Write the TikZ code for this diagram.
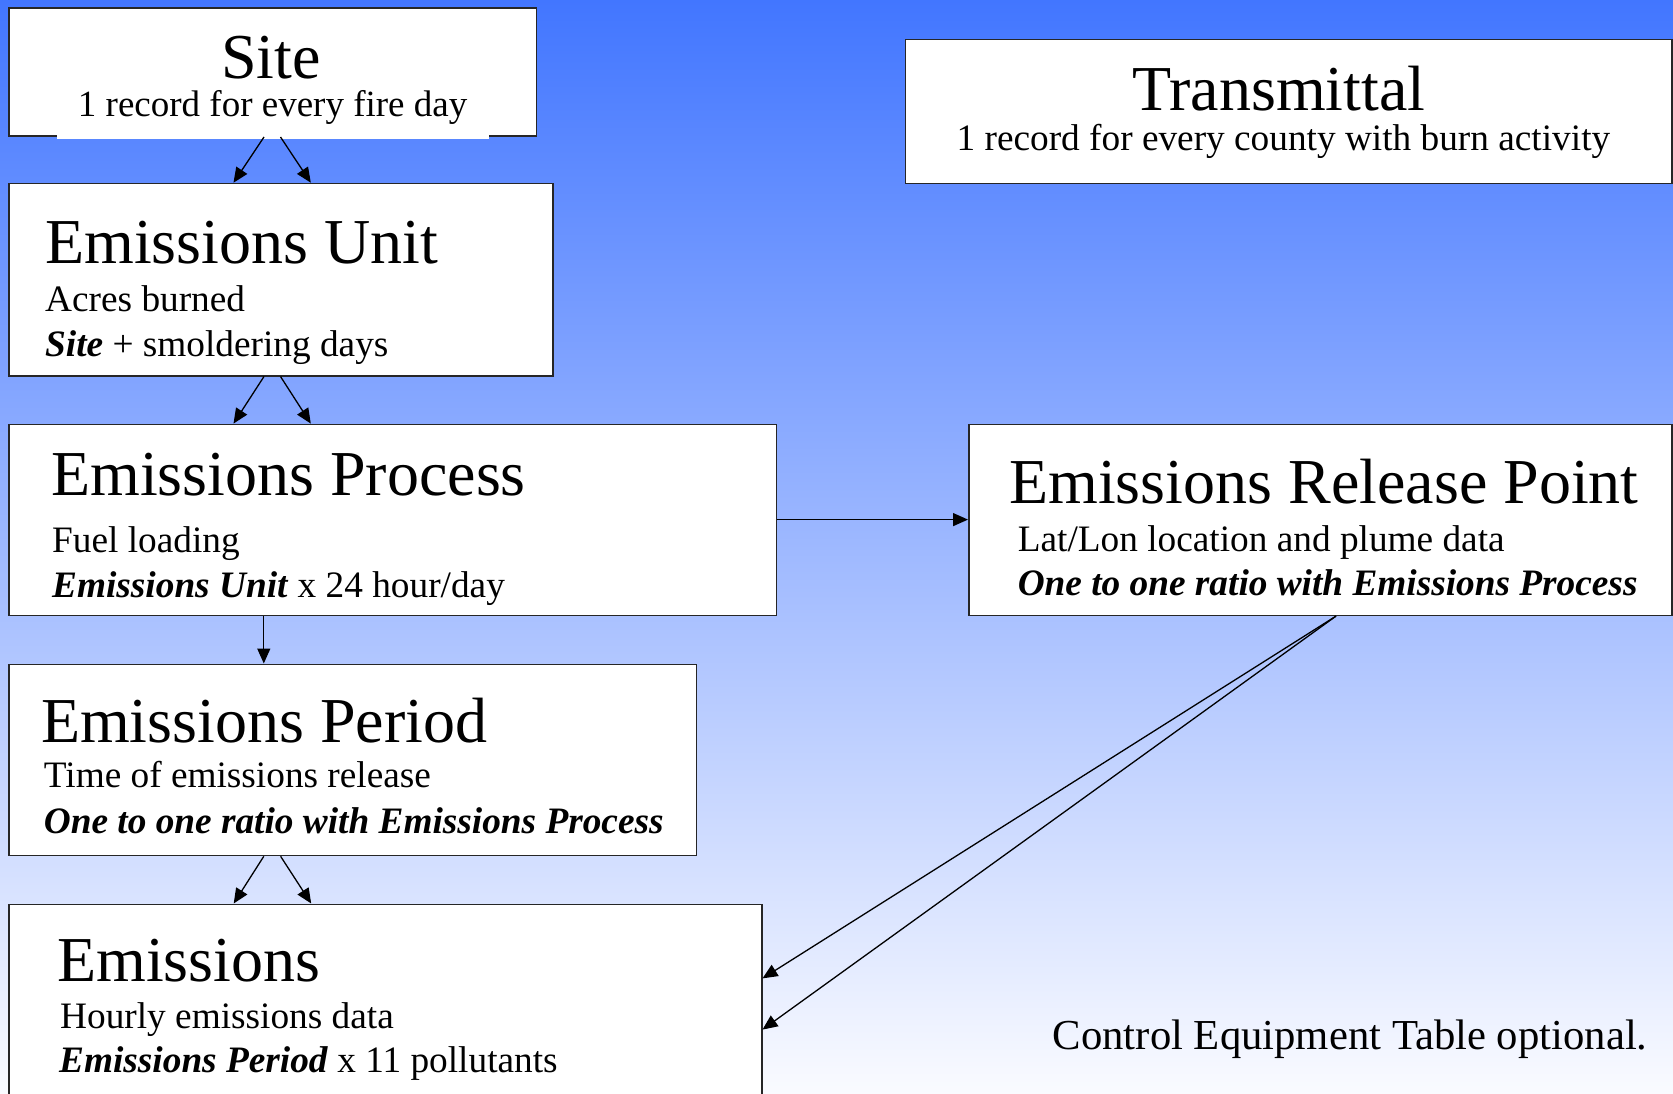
\documentclass[tikz,border=0pt]{standalone}
\usepackage{fontspec}
\setmainfont{Liberation Serif}
\usetikzlibrary{arrows.meta}
\definecolor{bgtop}{RGB}{66,118,255}
\definecolor{bgmid}{RGB}{172,183,252}
\definecolor{bgbot}{RGB}{250,251,255}
\begin{document}
\begin{tikzpicture}[x=1pt,y=-1pt,
  box/.style={draw=black!85, line width=1.5pt, fill=white, anchor=north west, inner sep=0pt},
  ttl/.style={inner sep=0pt, font=\fontsize{64}{70}\selectfont},
  sub/.style={inner sep=0pt, font=\fontsize{37.3}{42}\selectfont},
  arr/.style={-{Triangle[length=15pt,width=13pt]}, line width=1.3pt, black}]
\useasboundingbox (0,0) rectangle (1673,1094);
\shade[top color=bgtop, middle color=bgmid, bottom color=bgbot] (0,0) rectangle (1673,1094);

% boxes
\node[box, minimum width=527.4pt, minimum height=128pt] (site) at (8.4,7.5) {};
\node[box, minimum width=543.8pt, minimum height=192.3pt] (eu) at (8.4,182.7) {};
\node[box, minimum width=767.3pt, minimum height=191pt] (ep) at (8.4,423.6) {};
\node[box, minimum width=687.5pt, minimum height=191.3pt] (per) at (8.4,663.5) {};
\node[box, minimum width=752.6pt, minimum height=205pt] (em) at (8.4,903.5) {};
\node[box, minimum width=766.5pt, minimum height=143.7pt] (trans) at (904.5,39) {};
\node[box, minimum width=703pt, minimum height=191pt] (erp) at (968,423.6) {};

% gap in site bottom edge
\fill[white] (57,131) rectangle (489,139);

% texts
\node[ttl, anchor=base] (sitet) at (271,79) {Site};
\node[inner sep=0pt, font=\fontsize{37}{42}\selectfont, anchor=base] (sites) at (272.6,117) {1 record for every fire day};

\node[ttl, anchor=base west] (eut) at (45,263.3) {Emissions Unit};
\node[sub, anchor=base west] (eus1) at (45,311.7) {Acres burned};
\node[sub, anchor=base west] (eus2) at (45,356.7) {\textbf{\textit{Site}} + smoldering days};

\node[ttl, anchor=base west] (ept) at (51,495) {Emissions Process};
\node[sub, anchor=base west] (eps1) at (52,552.5) {Fuel loading};
\node[sub, anchor=base west] (eps2) at (52,597) {\textbf{\textit{Emissions Unit}} x 24 hour/day};

\node[ttl, anchor=base west] (pert) at (40.8,742.7) {Emissions Period};
\node[sub, anchor=base west] (pers1) at (43.7,787.3) {Time of emissions release};
\node[sub, anchor=base west] (pers2) at (43.7,833.3) {\textbf{\textit{One to one ratio with Emissions Process}}};

\node[ttl, anchor=base west] (emt) at (57,981.7) {Emissions};
\node[sub, anchor=base west] (ems1) at (60,1028.8) {Hourly emissions data};
\node[sub, anchor=base west] (ems2) at (59,1072) {\textbf{\textit{Emissions Period}} x 11 pollutants};

\node[ttl, anchor=base] (transt) at (1279,111) {Transmittal};
\node[sub, anchor=base] (transs) at (1283.4,151) {1 record for every county with burn activity};

\node[ttl, anchor=base west] (erpt) at (1009,503) {Emissions Release Point};
\node[sub, anchor=base west] (erps1) at (1017.6,551.5) {Lat/Lon location and plume data};
\node[sub, anchor=base west] (erps2) at (1017.6,595.5) {\textbf{\textit{One to one ratio with Emissions Process}}};

\node[inner sep=0pt, font=\fontsize{42.7}{48}\selectfont, anchor=base west] (ctrl) at (1052.6,1049.5) {Control Equipment Table optional.};

% connectors
\draw[arr] (264,0 |- site.south) -- (233.5,0 |- eu.north);
\draw[arr] (280.5,0 |- site.south) -- (310.8,0 |- eu.north);
\draw[arr] (264,0 |- eu.south) -- (233.5,0 |- ep.north);
\draw[arr] (280.5,0 |- eu.south) -- (310.8,0 |- ep.north);
\draw[arr] (263.8,0 |- ep.south) -- (263.8,0 |- per.north);
\draw[arr] (263.8,0 |- per.south) -- (233.7,0 |- em.north);
\draw[arr] (280.6,0 |- per.south) -- (311.2,0 |- em.north);
\draw[arr] (ep.east |- 0,519.6) -- (erp.west |- 0,519.6);
\draw[arr] (1336,0 |- erp.south) -- (em.east |- 0,978.4);
\draw[arr] (1336,0 |- erp.south) -- (em.east |- 0,1029.6);
\end{tikzpicture}
\end{document}
